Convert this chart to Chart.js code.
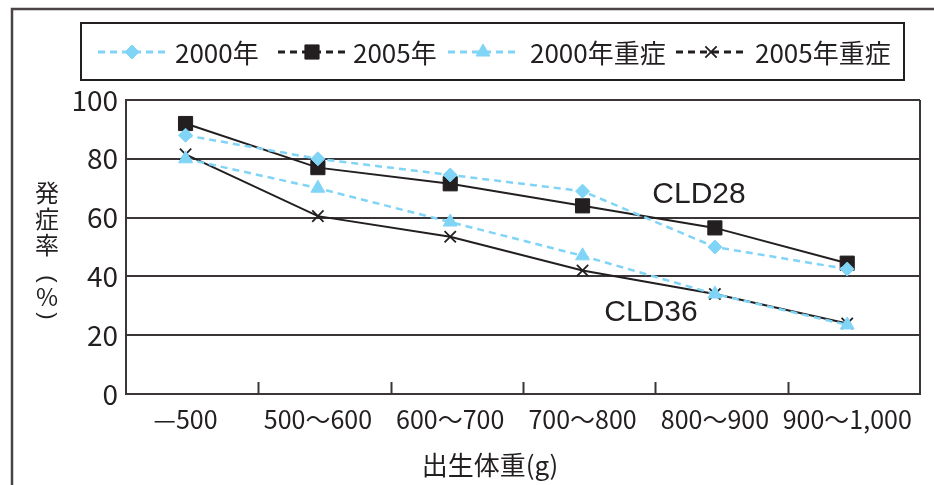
<!DOCTYPE html>
<html>
<head>
<meta charset="utf-8">
<script src="https://cdn.jsdelivr.net/npm/chart.js@4/dist/chart.umd.min.js"></script>
<style>
  html, body { margin: 0; padding: 0; background: #ffffff; }
  #grafico { display: block; }
</style>
</head>
<body>
<canvas id="grafico" width="934" height="485"></canvas>
<script>
// dados:
const categorias = ["—500", "500～600", "600～700", "700～800", "800～900", "900～1,000"];
const ticksY = [0, 20, 40, 60, 80, 100];
const nomesSeries = ["2000年", "2005年", "2000年重症", "2005年重症"];
const serie2000 = [88, 80, 74.5, 69, 50, 42.5];
const serie2005 = [92, 77, 71.5, 64, 56.5, 44.5];
const serie2000Grave = [80, 70, 58.5, 47, 34, 23.5];
const serie2005Grave = [81.5, 60.5, 53.5, 42, 34, 24];

// estilos:
const PRETO = "#231f20";
const AZUL = "#80d4f6";
const LINHA = "#3a3538";
const FONTE_NARROW = "'Liberation Sans Narrow', 'Noto Sans CJK JP', sans-serif";
const FONTE_CJK = "'Noto Sans CJK JP', 'Liberation Sans', sans-serif";

function pontos(valores) {
  return valores.map((v, i) => ({ x: i, y: v }));
}

const estilos = [
  { cor: AZUL, tracejado: [7, 5], ponto: "rectRot", raio: 7, borda: 1, largura: 2.5 },
  { cor: PRETO, tracejado: [], ponto: "rect", raio: 10, borda: 1, largura: 2 },
  { cor: AZUL, tracejado: [7, 5], ponto: "triangle", raio: 8, borda: 1, largura: 2.5 },
  { cor: PRETO, tracejado: [], ponto: "crossRot", raio: 8, borda: 1.8, largura: 2 },
];
const valoresSeries = [serie2000, serie2005, serie2000Grave, serie2005Grave];

const datasets = valoresSeries.map((valores, i) => ({
  label: nomesSeries[i],
  data: pontos(valores),
  borderColor: estilos[i].cor,
  backgroundColor: estilos[i].cor,
  borderWidth: estilos[i].largura,
  borderDash: estilos[i].tracejado,
  pointStyle: estilos[i].ponto,
  pointRadius: estilos[i].raio,
  pointBorderWidth: estilos[i].borda,
  pointBackgroundColor: estilos[i].cor,
  pointBorderColor: estilos[i].cor,
  tension: 0,
}));

function desenharMarcador(ctx, estilo, x, y) {
  ctx.save();
  ctx.setLineDash([]);
  ctx.fillStyle = estilo.cor;
  ctx.strokeStyle = estilo.cor;
  ctx.lineWidth = estilo.borda;
  if (Chart.helpers && Chart.helpers.drawPoint) {
    Chart.helpers.drawPoint(ctx, { pointStyle: estilo.ponto, radius: estilo.raio, rotation: 0, borderWidth: estilo.borda }, x, y);
  }
  ctx.restore();
}

// plugin com moldura, legenda e textos:
const pluginMoldura = {
  id: "moldura",
  afterDraw(chart) {
    const ctx = chart.ctx;
    const area = chart.chartArea;
    const escalaX = chart.scales.x;

    ctx.save();
    // moldura externa
    ctx.strokeStyle = "#4a4449";
    ctx.lineWidth = 2.5;
    ctx.beginPath();
    ctx.moveTo(12, 485);
    ctx.lineTo(12, 9);
    ctx.lineTo(934, 9);
    ctx.stroke();

    // borda direita do gráfico
    ctx.strokeStyle = LINHA;
    ctx.lineWidth = 2;
    ctx.beginPath();
    ctx.moveTo(area.right, area.top);
    ctx.lineTo(area.right, area.bottom);
    ctx.stroke();

    // marcas internas do eixo x
    for (let i = 0; i < categorias.length - 1; i++) {
      const x = Math.round(escalaX.getPixelForValue(i + 0.55)) + 0.5;
      ctx.beginPath();
      ctx.moveTo(x, area.bottom);
      ctx.lineTo(x, area.bottom - 12);
      ctx.stroke();
    }

    // caixa da legenda
    ctx.strokeStyle = PRETO;
    ctx.lineWidth = 2;
    ctx.strokeRect(81, 23, 823, 57);

    const itens = [
      { x0: 98, x1: 166, texto: 175 },
      { x0: 278, x1: 346, texto: 353 },
      { x0: 448, x1: 518, texto: 530 },
      { x0: 676, x1: 746, texto: 755 },
    ];
    const yLegenda = 52;
    itens.forEach((item, i) => {
      const estilo = estilos[i];
      ctx.strokeStyle = estilo.cor;
      ctx.lineWidth = 3;
      ctx.setLineDash([7, 5]);
      ctx.beginPath();
      ctx.moveTo(item.x0, yLegenda);
      ctx.lineTo(item.x1, yLegenda);
      ctx.stroke();
      ctx.setLineDash([]);
      desenharMarcador(ctx, estilo, (item.x0 + item.x1) / 2, yLegenda);
      ctx.fillStyle = PRETO;
      ctx.font = "26px " + FONTE_NARROW;
      ctx.textAlign = "left";
      ctx.textBaseline = "middle";
      ctx.fillText(nomesSeries[i], item.texto, yLegenda + 1);
    });

    // título do eixo y (vertical)
    ctx.fillStyle = PRETO;
    ctx.font = "24px " + FONTE_CJK;
    ctx.textAlign = "center";
    ctx.textBaseline = "middle";
    const letras = [["発", 193], ["症", 219], ["率", 245], ["%", 297]];
    for (const [c, y] of letras) ctx.fillText(c, 47, y);
    // parênteses verticais (rotacionados)
    ctx.font = "22px 'Liberation Sans', sans-serif";
    for (const [c, y] of [["(", 279], [")", 316]]) {
      ctx.save();
      ctx.translate(47, y);
      ctx.rotate(Math.PI / 2);
      ctx.fillText(c, 0, 0);
      ctx.restore();
    }

    // título do eixo x
    ctx.font = "26px " + FONTE_CJK;
    ctx.fillText("出生体重(g)", 490, 465);

    // rótulos CLD
    ctx.font = "30px 'Liberation Sans', Arial, sans-serif";
    ctx.fillText("CLD28", 699, 195);
    ctx.fillText("CLD36", 651, 313);
    ctx.restore();
  },
};

new Chart(document.getElementById("grafico"), {
  type: "line",
  data: { datasets },
  options: {
    responsive: false,
    animation: false,
    layout: { padding: { top: 100, right: 14, left: 0, bottom: 0 } },
    plugins: {
      legend: { display: false },
      tooltip: { enabled: false },
    },
    scales: {
      x: {
        type: "linear",
        min: -0.45,
        max: 5.55,
        afterBuildTicks: (escala) => {
          escala.ticks = categorias.map((_, i) => ({ value: i }));
        },
        afterFit: (escala) => { escala.height = 91; },
        grid: { display: false, drawTicks: false },
        border: { display: true, color: LINHA, width: 2 },
        ticks: {
          callback: (v) => categorias[v],
          padding: 10,
          maxRotation: 0,
          autoSkip: false,
          color: PRETO,
          font: { size: 25, family: FONTE_NARROW },
        },
      },
      y: {
        min: 0,
        max: 100,
        afterBuildTicks: (escala) => {
          escala.ticks = ticksY.map((v) => ({ value: v }));
        },
        afterFit: (escala) => { escala.width = 126; },
        grid: { color: LINHA, lineWidth: 2, drawTicks: false },
        border: { display: true, color: LINHA, width: 2 },
        ticks: {
          padding: 8,
          color: PRETO,
          font: { size: 28, family: FONTE_NARROW },
        },
      },
    },
  },
  plugins: [pluginMoldura],
});
</script>
</body>
</html>
